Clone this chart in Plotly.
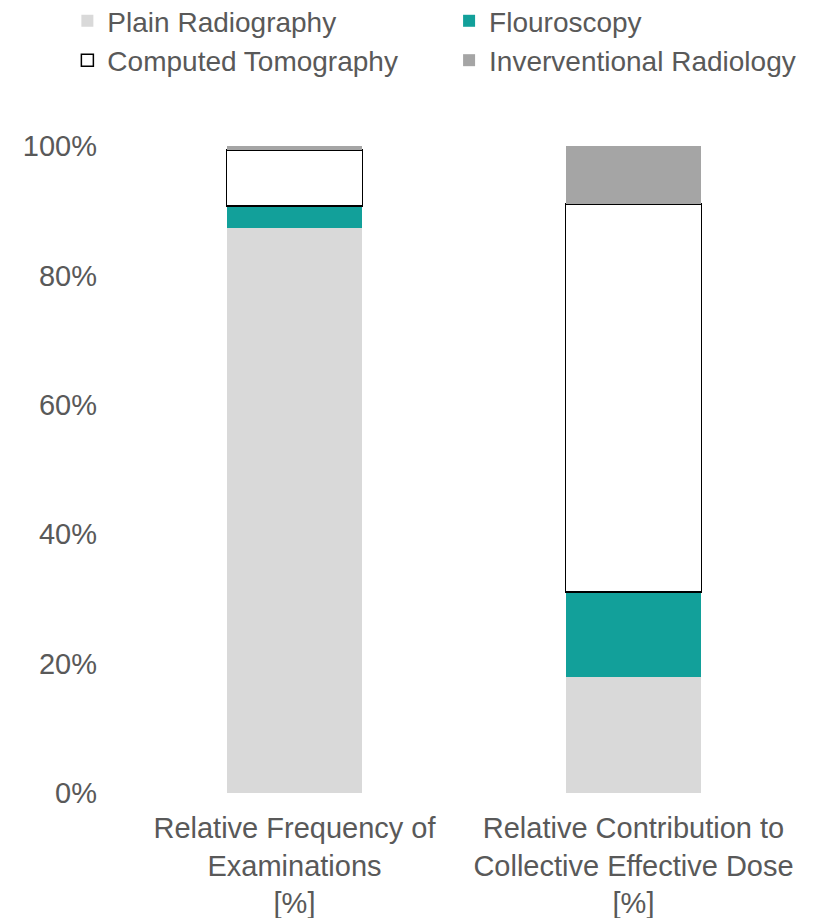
import plotly.graph_objects as go

categories = [
    "Relative Frequency of<br>Examinations<br>[%]",
    "Relative Contribution to<br>Collective Effective Dose<br>[%]",
]
plain_radiography = [87.3, 17.9]
flouroscopy = [3.4, 13.2]
computed_tomography = [8.7, 59.9]
interventional_radiology = [0.6, 9.0]
y_ticks = [0, 20, 40, 60, 80, 100]

FONT = "Liberation Sans"
TEXT_COLOR = "#595959"

fig = go.Figure()

# stacked bars, bottom to top; two legends give the two legend columns
fig.add_trace(go.Bar(
    x=categories, y=plain_radiography, name="Plain Radiography",
    marker=dict(color="#D9D9D9", line=dict(width=0)), legend="legend",
))
fig.add_trace(go.Bar(
    x=categories, y=flouroscopy, name="Flouroscopy",
    marker=dict(color="#12A09A", line=dict(width=0)), legend="legend2",
))
fig.add_trace(go.Bar(
    x=categories, y=computed_tomography, name="Computed Tomography",
    marker=dict(color="#FFFFFF", line=dict(color="#000000", width=1.5)),
    legend="legend",
))
fig.add_trace(go.Bar(
    x=categories, y=interventional_radiology, name="Inverventional Radiology",
    marker=dict(color="#A5A5A5", line=dict(width=0)), legend="legend2",
))

# the page body adds an 8px margin, so the figure is 8px smaller than the window
legend_style = dict(
    orientation="v",
    xanchor="left",
    yref="container", y=0.9153, yanchor="bottom",
    traceorder="normal",
    font=dict(size=28, color=TEXT_COLOR),
    bgcolor="rgba(0,0,0,0)",
)

fig.update_layout(
    barmode="stack",
    bargap=0.6,
    width=813,
    height=910,
    margin=dict(l=117, r=18, t=138, b=125),
    paper_bgcolor="white",
    plot_bgcolor="white",
    font=dict(family=FONT, size=28, color=TEXT_COLOR),
    xaxis=dict(
        showgrid=False, showline=False, ticks="", automargin=False,
        ticklabelstandoff=15,
        tickfont=dict(size=29, color=TEXT_COLOR),
    ),
    yaxis=dict(
        range=[0, 100], tickmode="array", tickvals=y_ticks,
        ticktext=[f"{v}%" for v in y_ticks], automargin=False,
        showgrid=False, showline=False, zeroline=False,
        ticks="", ticklabelstandoff=27,
        tickfont=dict(size=29, color=TEXT_COLOR),
    ),
    legend=dict(legend_style, x=-0.085),
    legend2=dict(legend_style, x=0.478),
    showlegend=True,
)

fig.write_html("out.html")
